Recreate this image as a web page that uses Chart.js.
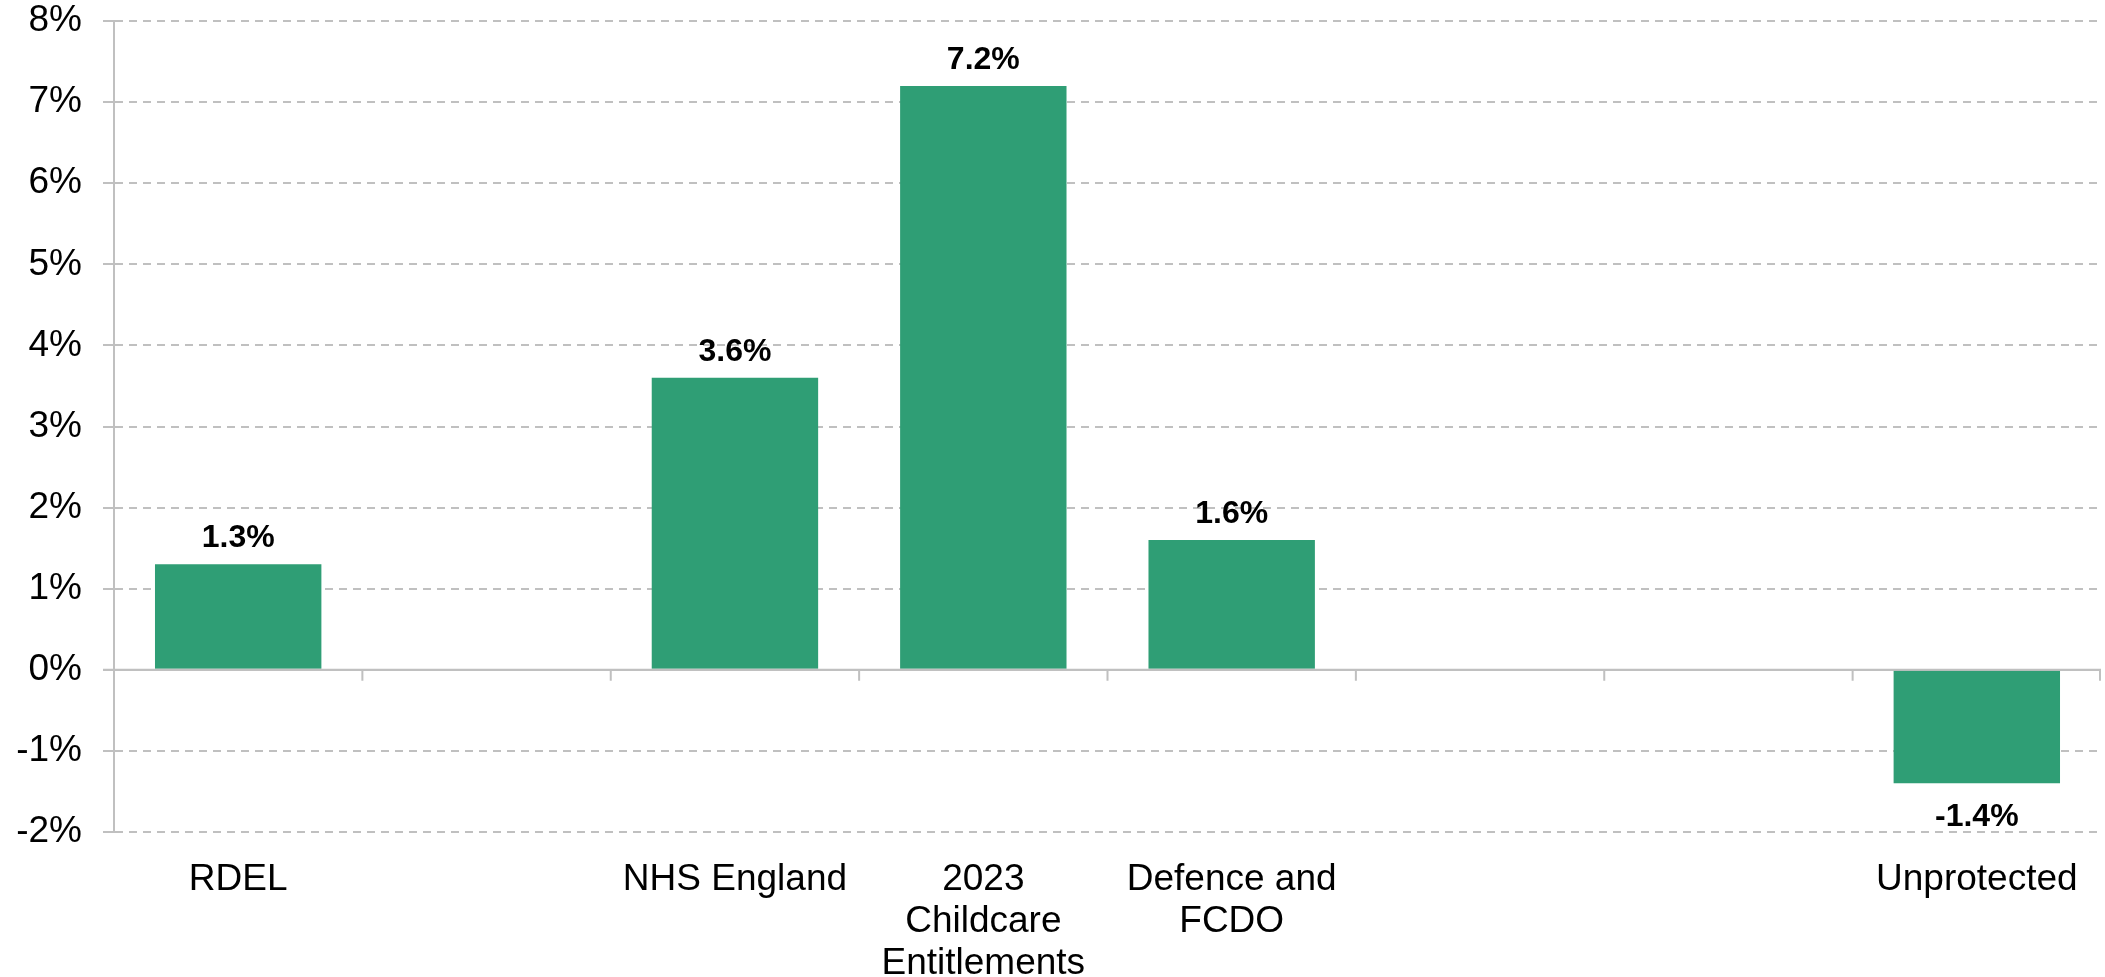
<!DOCTYPE html>
<html>
<head>
<meta charset="utf-8">
<script src="https://cdn.jsdelivr.net/npm/chart.js@4/dist/chart.umd.min.js"></script>
<style>
  html, body { margin: 0; padding: 0; background: #fff; }
  #wrap { width: 2105px; height: 977px; }
</style>
</head>
<body>
<div id="wrap"><canvas id="myChart"></canvas></div>
<script>
// real terms change by area, blank slots keep the gaps between groups
const categories = ['RDEL', '', 'NHS England', ['2023', 'Childcare', 'Entitlements'], ['Defence and', 'FCDO'], '', '', 'Unprotected'];
const changes = [1.3, null, 3.6, 7.2, 1.6, null, null, -1.4];
const yMin = -2;
const yMax = 8;

const barColour = '#2f9e75';
const gridColour = '#c0c0c0';
const fontFamily = '"Liberation Sans", Arial, sans-serif';

// solid zero line with little ticks under it, and the bold value labels
const zeroAxis = {
  id: 'zeroAxis',
  afterDatasetsDraw(chart) {
    const ctx = chart.ctx;
    const x = chart.scales.x;
    const y = chart.scales.y;
    const y0 = y.getPixelForValue(0);
    ctx.save();
    ctx.strokeStyle = gridColour;
    ctx.lineWidth = 2;
    ctx.beginPath();
    ctx.moveTo(x.left - 11, y0);
    ctx.lineTo(x.right, y0);
    for (let i = 1; i < categories.length; i++) {
      const bx = (x.getPixelForValue(i - 1) + x.getPixelForValue(i)) / 2;
      ctx.moveTo(bx, y0);
      ctx.lineTo(bx, y0 + 11);
    }
    ctx.moveTo(x.right - 1, y0);
    ctx.lineTo(x.right - 1, y0 + 11);
    ctx.stroke();

    ctx.fillStyle = '#000';
    ctx.font = 'bold 32px ' + fontFamily;
    ctx.textAlign = 'center';
    ctx.textBaseline = 'alphabetic';
    chart.getDatasetMeta(0).data.forEach((bar, i) => {
      const v = changes[i];
      if (v == null) return;
      const ty = v >= 0 ? bar.y - 17 : bar.y + 43;
      ctx.fillText(v.toFixed(1) + '%', bar.x, ty);
    });
    ctx.restore();
  }
};

const ctx = document.getElementById('myChart');
new Chart(ctx, {
  type: 'bar',
  data: {
    labels: categories,
    datasets: [{
      label: 'Change',
      data: changes,
      backgroundColor: barColour,
      categoryPercentage: 1,
      barPercentage: 0.67
    }]
  },
  options: {
    responsive: true,
    maintainAspectRatio: false,
    animation: false,
    layout: { padding: { top: 0, right: 4, bottom: 0, left: 0 } },
    plugins: {
      legend: { display: false },
      tooltip: { enabled: false }
    },
    scales: {
      x: {
        grid: { display: false },
        border: { display: false },
        ticks: {
          color: '#000',
          font: { family: fontFamily, size: 37, lineHeight: '42px' },
          padding: 19,
          maxRotation: 0,
          autoSkip: false
        },
        afterFit: (scale) => { scale.height = 145; }
      },
      y: {
        min: yMin,
        max: yMax,
        grid: {
          color: gridColour,
          lineWidth: 2,
          tickLength: 11,
          tickColor: gridColour,
          tickWidth: 2
        },
        border: {
          display: true,
          color: gridColour,
          width: 2,
          dash: (c) => (c.tick && c.tick.value === 0 ? [] : [8, 6])
        },
        ticks: {
          stepSize: 1,
          color: '#000',
          font: { family: fontFamily, size: 37, lineHeight: 1.2 },
          padding: 21,
          callback: (v) => v + '%'
        },
        afterFit: (scale) => {
          scale.width = 114;
          scale.paddingTop = 21;
          scale.paddingBottom = 21;
        }
      }
    }
  },
  plugins: [zeroAxis]
});
</script>
</body>
</html>
